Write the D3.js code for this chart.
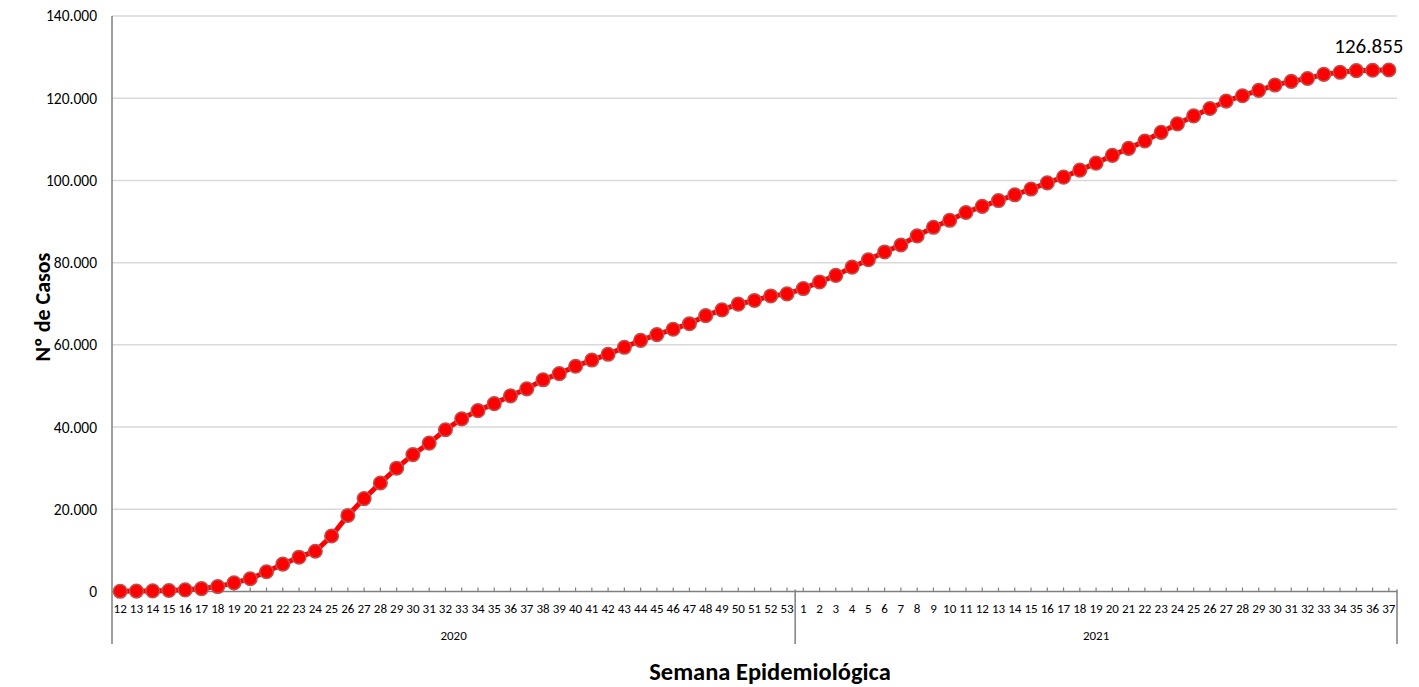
<!DOCTYPE html>
<html>
<head>
<meta charset="utf-8">
<script src="https://cdn.jsdelivr.net/npm/d3@7"></script>
<style>
  body { margin: 0; background: #fff; }
  text { font-family: Carlito, "Liberation Sans", Arial, sans-serif; fill: #000; }
</style>
</head>
<body>
<script>
// semanas epidemiológicas
var weeks2020 = d3.range(12, 54);
var weeks2021 = d3.range(1, 38);
var years = ["2020", "2021"];

// casos acumulados por semana
var cases2020 = [50, 100, 150, 250, 400, 700, 1200, 2100, 3100, 4800, 6650, 8350, 9800, 13500,
  18500, 22600, 26400, 30000, 33300, 36100, 39350, 42000, 44000, 45700, 47600, 49300, 51500,
  53000, 54800, 56300, 57700, 59400, 61100, 62500, 63800, 65150, 67100, 68500, 69900, 70800,
  71900, 72400];
var cases2021 = [73700, 75300, 76900, 78900, 80700, 82600, 84300, 86500, 88600, 90300, 92200,
  93700, 95100, 96500, 97900, 99400, 100800, 102500, 104200, 106100, 107800, 109600, 111700,
  113750, 115700, 117500, 119300, 120600, 121900, 123200, 124100, 124800, 125800, 126300,
  126700, 126800, 126855];
var yTicks = [0, 20000, 40000, 60000, 80000, 100000, 120000, 140000];

var labels = weeks2020.concat(weeks2021);
var values = cases2020.concat(cases2021);

var w = 1419, h = 687;
var mLeft = 112, mRight = 1397, mTop = 16, mBottom = 591.5;

var locale = d3.formatLocale({decimal: ",", thousands: ".", grouping: [3], currency: ["", ""]});
var fmt = locale.format(",d");

var svg = d3.select("body").append("svg").attr("width", w).attr("height", h);

var x = d3.scaleBand().domain(d3.range(values.length)).range([mLeft, mRight]);
var y = d3.scaleLinear().domain([0, 140000]).range([mBottom, mTop]);
var cx = function(i) { return x(i) + x.bandwidth() / 2; };

// grid
svg.selectAll(".grid").data(yTicks.slice(1)).enter().append("line")
  .attr("x1", mLeft).attr("x2", mRight)
  .attr("y1", function(d) { return y(d); }).attr("y2", function(d) { return y(d); })
  .attr("stroke", "#d9d9d9").attr("stroke-width", 1.5);

// y axis labels
var yAxis = svg.append("g").attr("transform", "translate(" + mLeft + ",0)")
  .call(d3.axisLeft(y).tickValues(yTicks).tickFormat(fmt).tickSize(0).tickPadding(15));
yAxis.select(".domain").remove();
yAxis.selectAll("text").style("font-size", "15.5px").style("font-family", null);

// x axis
var xAxis = svg.append("g").attr("transform", "translate(0," + mBottom + ")")
  .call(d3.axisBottom(x).tickFormat(function(i) { return labels[i]; }).tickSize(-4).tickPadding(12));
xAxis.select(".domain").remove();
xAxis.selectAll("line").attr("stroke", "#7f7f7f").attr("stroke-width", 1.2);
xAxis.selectAll("text").style("font-size", "13px").style("font-family", null);

svg.append("line").attr("x1", mLeft).attr("x2", mRight).attr("y1", mBottom).attr("y2", mBottom)
  .attr("stroke", "#7f7f7f").attr("stroke-width", 1.5);

// separadores de año
var seps = [0, weeks2020.length, values.length];
svg.selectAll(".sep").data(seps).enter().append("line")
  .attr("x1", function(d) { return mLeft + d * x.bandwidth(); })
  .attr("x2", function(d) { return mLeft + d * x.bandwidth(); })
  .attr("y1", function(d, i) { return i == 0 ? mTop : mBottom - 2; })
  .attr("y2", 644)
  .attr("stroke", "#7f7f7f").attr("stroke-width", 1.5);

svg.selectAll(".year").data(years).enter().append("text")
  .attr("x", function(d, i) { return mLeft + (seps[i] + seps[i + 1]) / 2 * x.bandwidth(); })
  .attr("y", 640).attr("text-anchor", "middle").style("font-size", "13px")
  .text(function(d) { return d; });

// serie
var line = d3.line().x(function(d, i) { return cx(i); }).y(function(d) { return y(d); });
svg.append("path").datum(values).attr("d", line)
  .attr("fill", "none").attr("stroke", "#ff0000").attr("stroke-width", 5);

svg.selectAll(".pt").data(values).enter().append("circle")
  .attr("cx", function(d, i) { return cx(i); })
  .attr("cy", function(d) { return y(d); })
  .attr("r", 6.8)
  .attr("fill", "#ff0000").attr("stroke", "#c0504d").attr("stroke-width", 1.5);

// etiqueta final
svg.append("text")
  .attr("x", cx(values.length - 1) - 20).attr("y", 53)
  .attr("text-anchor", "middle").style("font-size", "21px")
  .text(fmt(values[values.length - 1]));

// títulos
svg.append("text").attr("x", 770).attr("y", 680).attr("text-anchor", "middle")
  .style("font-size", "24.5px").style("font-weight", "bold").text("Semana Epidemiológica");

svg.append("text").attr("transform", "translate(50,307) rotate(-90)").attr("text-anchor", "middle")
  .style("font-size", "22px").style("font-weight", "bold").text("Nº de Casos");
</script>
</body>
</html>
